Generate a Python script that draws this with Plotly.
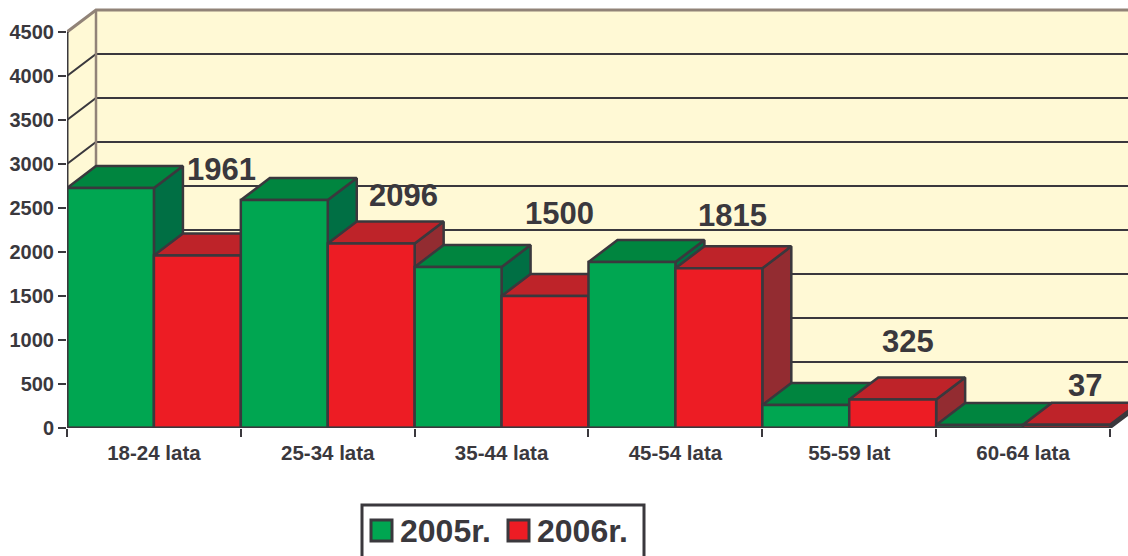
"""Wykres słupkowy 3D: 2005r. / 2006r. wg grup wieku."""

import plotly.graph_objects as go

categories = ["18-24 lata", "25-34 lata", "35-44 lata", "45-54 lata", "55-59 lat", "60-64 lata"]
values_2005 = [2727, 2590, 1830, 1886, 261, 35]
values_2006 = [1961, 2096, 1500, 1815, 325, 37]
y_ticks = [0, 500, 1000, 1500, 2000, 2500, 3000, 3500, 4000, 4500]
series_names = ["2005r.", "2006r."]

# pixel shift of each value label from the top of its bar
label_shifts = [(24, 86), (32, 48), (14, 83), (14, 53), (15, 58), (18, 39)]

WIDTH, HEIGHT = 1128, 556
LEFT, TOP, BOTTOM = 67, 8, 428
CAT_PX = 173.83
UNIT_PX = 0.088
DX = 29 / CAT_PX  # depth of the 3D effect, in axis units
DY = 22 / UNIT_PX

INK = "#3A383D"
WALL = "#FFF9D5"
BROWN = "#918378"
FRONT = ["#00A651", "#ED1C24"]
TOPS = ["#00853F", "#BE2329"]
SIDES = ["#006F44", "#932C31"]

fig = go.Figure()


def poly(xs, ys, fill, line=INK, width=2.5):
    fig.add_trace(go.Scatter(
        x=xs, y=ys, mode="lines", fill="toself" if fill else None, fillcolor=fill,
        line=dict(color=line, width=width), cliponaxis=False,
        hoverinfo="skip", showlegend=False,
    ))


# walls
y_max = y_ticks[-1]
n = len(categories)
poly([0, DX, DX, 0, 0], [0, DY, y_max + DY, y_max, 0], WALL, WALL, 0)
poly([DX, n + 1, n + 1, DX, DX], [DY, DY, y_max + DY, y_max + DY, DY], WALL, WALL, 0)

# gridlines, on both walls
grid_x, grid_y = [], []
for t in y_ticks[1:-1]:
    grid_x += [0, DX, n + 1, None]
    grid_y += [t, t + DY, t + DY, None]
poly(grid_x, grid_y, None, INK, 2)
poly([0, DX, n + 1], [y_max, y_max + DY, y_max + DY], None, BROWN, 3)
poly([DX, DX], [DY, y_max + DY], None, BROWN, 2.5)

# bars, left to right so that each one covers the side of the one before
for i in range(n):
    for s, values in enumerate([values_2005, values_2006]):
        v = values[i]
        x0, x1 = i + s * 0.5, i + s * 0.5 + 0.5
        poly([x1, x1 + DX, x1 + DX, x1, x1], [0, DY, v + DY, v, 0], SIDES[s])
        poly([x0, x1, x1 + DX, x0 + DX, x0], [v, v, v + DY, v + DY, v], TOPS[s])
        poly([x0, x1, x1, x0, x0], [0, 0, v, v, 0], FRONT[s])

# front axis lines
poly([0, 0], [0, y_max], None, INK, 3)
poly([0, n], [0, 0], None, INK, 3)

# value labels
annotations = []
for i, v in enumerate(values_2006):
    annotations.append(dict(
        x=i + 0.75, y=v, xref="x", yref="y", text=f"<b>{v}</b>", showarrow=False,
        xshift=label_shifts[i][0], yshift=label_shifts[i][1],
        font=dict(size=31, color=INK, family="Liberation Sans"),
    ))


def px_x(p):
    return (p - LEFT) / (WIDTH - LEFT)


def px_y(p):
    return (BOTTOM - p) / (BOTTOM - TOP)


# legend box, it runs past the bottom of the page like the original
shapes = [dict(
    type="rect", xref="paper", yref="paper", x0=px_x(362), x1=px_x(644), y0=px_y(575), y1=px_y(505),
    line=dict(color=INK, width=3), fillcolor="white",
)]
for name, color, sw_x in zip(series_names, FRONT, [370, 507]):
    shapes.append(dict(
        type="rect", xref="paper", yref="paper", x0=px_x(sw_x + 1), x1=px_x(sw_x + 22),
        y0=px_y(541), y1=px_y(520), line=dict(color=INK, width=3), fillcolor=color,
    ))
    annotations.append(dict(
        x=px_x(sw_x + 28), y=px_y(531), xref="paper", yref="paper", text=f"<b>{name}</b>", showarrow=False,
        xanchor="left", yanchor="middle", font=dict(size=32, color=INK, family="Liberation Sans"),
    ))

fig.update_layout(
    width=WIDTH,
    height=HEIGHT,
    margin=dict(l=LEFT, r=0, t=TOP, b=HEIGHT - BOTTOM, pad=0),
    paper_bgcolor="white",
    plot_bgcolor="white",
    showlegend=False,
    font=dict(family="Liberation Sans", color=INK),
    annotations=annotations,
    shapes=shapes,
)
fig.update_xaxes(
    range=[0, (WIDTH - LEFT) / CAT_PX],
    tickmode="array",
    tickvals=[i + 0.5 for i in range(n)],
    ticktext=[f"<b>{c}</b>" for c in categories],
    tickfont=dict(size=20.5, color=INK),
    ticks="",
    ticklabelstandoff=10,
    showgrid=False,
    zeroline=False,
    showline=False,
    minor=dict(tickmode="linear", tick0=0, dtick=1, ticks="outside", ticklen=8, tickwidth=2, tickcolor=INK, showgrid=False),
)
fig.update_yaxes(
    range=[0, (BOTTOM - TOP) / UNIT_PX],
    tickmode="array",
    tickvals=y_ticks,
    ticktext=[f"<b>{t}</b>" for t in y_ticks],
    tickfont=dict(size=20, color=INK),
    ticks="outside",
    ticklen=8,
    tickwidth=2,
    tickcolor=INK,
    showgrid=False,
    zeroline=False,
    showline=False,
)

fig.write_html(
    "out.html",
    config=dict(displayModeBar=False),
    post_script="document.body.style.margin = '0';",
)
